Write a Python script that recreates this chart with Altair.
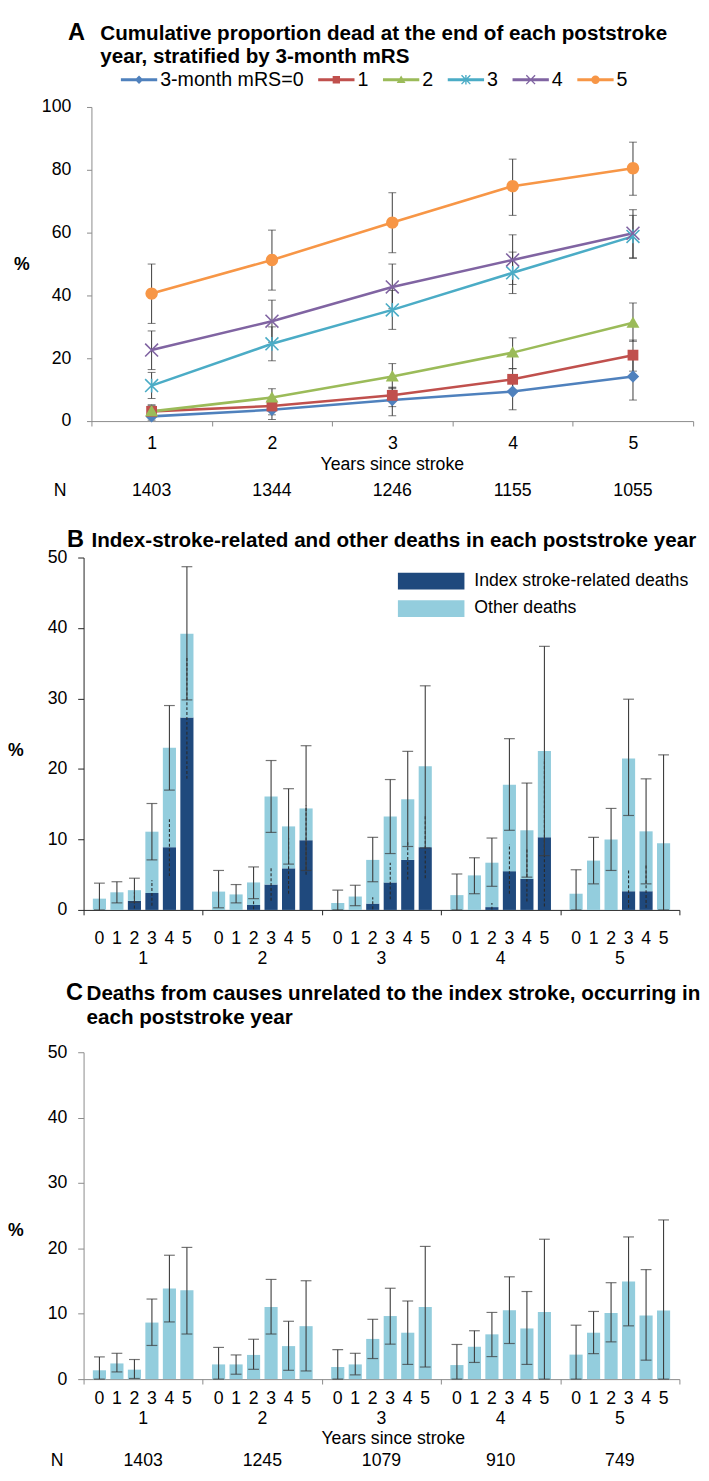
import math
import altair as alt
import pandas as pd

# ---------------- Panel A data ----------------
years = [1, 2, 3, 4, 5]
a_labels = ["3-month mRS=0", "1", "2", "3", "4", "5"]
a_mrs0 = [1.5, 3.6, 6.7, 9.4, 14.2]
a_mrs1 = [3.1, 4.8, 8.2, 13.3, 21.0]
a_mrs2 = [3.1, 7.5, 14.2, 21.8, 31.3]
a_mrs3 = [11.3, 24.6, 35.4, 47.2, 58.8]
a_mrs4 = [22.6, 31.8, 42.7, 51.3, 59.8]
a_mrs5 = [40.6, 51.3, 63.2, 74.8, 80.5]
a_lo0 = [0.3, 0.5, 1.7, 3.6, 6.7]
a_hi0 = [2.9, 6.7, 10.6, 14.4, 20.5]
a_lo1 = [1.0, 2.0, 4.6, 9.7, 15.9]
a_hi1 = [5.2, 7.6, 10.8, 16.7, 25.8]
a_lo2 = [1.3, 4.6, 10.3, 16.7, 25.4]
a_hi2 = [4.9, 10.3, 18.3, 26.5, 37.6]
a_lo3 = [7.2, 19.2, 29.2, 40.6, 51.8]
a_hi3 = [15.5, 30.0, 41.6, 53.8, 65.5]
a_lo4 = [16.4, 25.1, 35.8, 43.5, 52.0]
a_hi4 = [28.7, 38.5, 50.0, 59.3, 67.3]
a_lo5 = [31.1, 41.7, 53.6, 65.5, 71.9]
a_hi5 = [50.0, 60.8, 72.7, 83.4, 88.8]
a_n = [1403, 1344, 1246, 1155, 1055]

# ---------------- Panel B data (groups = years, cats = 3-month mRS) ----------------
groups = [1, 2, 3, 4, 5]
cats = [0, 1, 2, 3, 4, 5]
b_index = [0, 0, 1.3, 2.4, 8.9, 27.3,
           0, 0, 0.7, 3.6, 5.9, 9.9,
           0, 0, 0.9, 3.9, 7.1, 8.9,
           0, 0, 0.4, 5.5, 4.4, 10.3,
           0, 0, 0, 2.65, 2.65, 0]
b_other = [1.6, 2.5, 1.5, 8.7, 14.1, 11.9,
           2.6, 2.2, 3.2, 12.5, 5.95, 4.5,
           1.0, 1.9, 6.2, 9.35, 8.6, 11.5,
           2.1, 4.9, 6.3, 12.25, 6.9, 12.25,
           2.3, 7.0, 10.0, 18.85, 8.5, 9.45]
b_lo = [0, 1.0, 1.1, 7.1, 17.0, 29.8,
        0.3, 1.0, 1.6, 11.0, 6.5, 5.6,
        0, 0.6, 4.0, 8.0, 9.0, 8.8,
        0, 2.3, 3.35, 11.3, 4.65, 7.7,
        0, 3.7, 5.6, 13.4, 3.7, 0]
b_hi = [3.8, 4.0, 4.5, 15.1, 29.0, 48.7,
        5.6, 3.6, 6.1, 21.2, 17.2, 23.3,
        2.8, 3.5, 10.3, 18.5, 22.5, 31.8,
        5.1, 7.4, 10.2, 24.3, 18.0, 37.4,
        5.7, 10.3, 14.4, 29.9, 18.6, 22.0]
b_idx_lo = [None, None, 0.2, 0.6, 4.8, 18.6,
            None, None, 0.1, 1.3, 2.3, 5.0,
            None, None, 0.1, 1.5, 4.3, 4.5,
            None, None, 0.05, 2.3, 1.2, 0.5,
            None, None, None, 0.3, 0.3, None]
b_idx_hi = [None, None, 2.5, 4.2, 12.9, 36.0,
            None, None, 1.4, 5.9, 10.2, 14.8,
            None, None, 1.8, 6.7, 9.9, 13.5,
            None, None, 1.0, 9.3, 8.8, 21.4,
            None, None, None, 5.6, 6.5, None]

# ---------------- Panel C data ----------------
c_vals = [1.35, 2.4, 1.45, 8.65, 13.85, 13.6,
          2.25, 2.25, 3.7, 11.05, 5.05, 8.1,
          1.85, 2.25, 6.15, 9.65, 7.1, 11.05,
          2.15, 4.95, 6.85, 10.55, 7.75, 10.25,
          3.75, 7.1, 10.1, 14.95, 9.75, 10.5]
c_lo = [0, 1.1, 0.1, 5.15, 8.75, 6.9,
        0, 0.75, 1.5, 6.9, 1.35, 1.25,
        0, 0.65, 3.15, 5.35, 2.25, 1.85,
        0, 2.55, 3.45, 5.45, 2.25, 0,
        0, 3.9, 5.7, 8.15, 2.9, 0]
c_hi = [3.4, 3.95, 3.0, 12.25, 18.95, 20.15,
        4.85, 3.7, 6.1, 15.25, 8.85, 15.05,
        4.5, 3.95, 9.15, 13.9, 11.95, 20.3,
        5.3, 7.4, 10.2, 15.65, 13.4, 21.4,
        8.25, 10.35, 14.75, 21.75, 16.75, 24.35]
c_n = [1403, 1245, 1079, 910, 749]

# ---------------- styles ----------------
FONT = "Liberation Sans, Arial, sans-serif"
A_COLORS = ["#4F81BD", "#C0504D", "#9BBB59", "#4BACC6", "#8064A2", "#F79646"]
DARK = "#1F497D"
LIGHT = "#93CDDD"
ERR = "#3a3a3a"
GRAYAX = "#8a8a8a"
B_TYPES = ["Index stroke-related deaths", "Other deaths"]

WA, HA, AX0 = 621, 320, 8
WB, HB = 607, 359
WC, HC = 607, 333


def poly(pts, s):
    return "M" + "L".join(f"{x / s:.4f},{y / s:.4f}" for x, y in pts) + "Z"


def bar(theta_deg, half_len, half_t, s):
    th = math.radians(theta_deg)
    dx, dy = math.cos(th) * half_len, math.sin(th) * half_len
    nx, ny = -math.sin(th) * half_t, math.cos(th) * half_t
    pts = [(dx - nx, dy - ny), (dx + nx, dy + ny), (-dx + nx, -dy + ny), (-dx - nx, -dy - ny)]
    return poly(pts, s)


def marker(kind, s, m=1.0, t=0.8):
    if kind == "diamond":
        a = 6.3 * m
        return poly([(0, -a), (a, 0), (0, a), (-a, 0)], s)
    if kind == "square":
        a = 5.5 * m
        return poly([(-a, -a), (a, -a), (a, a), (-a, a)], s)
    if kind == "triangle":
        w, top, bot = 6.6 * m, -6.5 * m, 5.0 * m
        return poly([(0, top), (w, bot), (-w, bot)], s)
    if kind == "circle":
        r = 6.3 * m / s
        return f"M{r:.4f},0A{r:.4f},{r:.4f} 0 1,1 {-r:.4f},0A{r:.4f},{r:.4f} 0 1,1 {r:.4f},0Z"
    if kind == "x":
        return bar(45, 9.3 * m, t, s) + bar(135, 9.3 * m, t, s)
    if kind == "star":
        return bar(90, 7.0 * m, t, s) + bar(45, 9.3 * m, t, s) + bar(135, 9.3 * m, t, s)


KINDS = ["diamond", "square", "triangle", "star", "x", "circle"]
PT_SIZE = 196          # 14 px -> 7 px per unit
LEG_W = 37
LEG_SIZE = LEG_W * LEG_W
LEG_S = LEG_W / 2.0
pt_paths = [marker(k, 7.0) for k in KINDS]
lt = 1.5 / LEG_S
leg_paths = [f"M-1,{-lt:.4f}H1V{lt:.4f}H-1Z" + marker(k, LEG_S, 0.68, 0.7) for k in KINDS]

# ---------------- Panel A ----------------
a_vals = [a_mrs0, a_mrs1, a_mrs2, a_mrs3, a_mrs4, a_mrs5]
a_los = [a_lo0, a_lo1, a_lo2, a_lo3, a_lo4, a_lo5]
a_his = [a_hi0, a_hi1, a_hi2, a_hi3, a_hi4, a_hi5]
rows = []
for si, lab in enumerate(a_labels):
    for yi, yr in enumerate(years):
        rows.append(dict(series=lab, sidx=si, year=yr, val=a_vals[si][yi],
                         lo=a_los[si][yi], hi=a_his[si][yi], col=A_COLORS[si]))
a_df = pd.DataFrame(rows)
a_ndf = pd.DataFrame({"year": years, "n": [str(v) for v in a_n]})

xA = alt.X("year:O", scale=alt.Scale(range=[AX0, WA], paddingInner=0, paddingOuter=0),
           axis=alt.Axis(title=None, labelAngle=0, tickBand="extent", tickSize=5,
                         labelPadding=18, labelBaseline="middle", domainColor=GRAYAX,
                         tickColor=GRAYAX, labelFontSize=18))
axisA_y = alt.Axis(title=None, values=[0, 20, 40, 60, 80, 100], offset=-AX0, tickSize=5,
                   labelPadding=16, domainColor=GRAYAX, tickColor=GRAYAX, labelFontSize=18)
scaleA_y = alt.Scale(domain=[0, 100], nice=False)

baseA = alt.Chart(a_df)
errA = baseA.mark_rule(color=ERR, strokeWidth=1).encode(
    x=xA, y=alt.Y("lo:Q", scale=scaleA_y, axis=axisA_y), y2="hi:Q")
capA_lo = baseA.mark_tick(color=ERR, size=8, thickness=1).encode(x=xA, y="lo:Q")
capA_hi = baseA.mark_tick(color=ERR, size=8, thickness=1).encode(x=xA, y="hi:Q")
linesA = baseA.mark_line(strokeWidth=2.6).encode(
    x=xA, y="val:Q", color=alt.Color("col:N", scale=None), detail="series:N")
pointsA = [baseA.transform_filter(alt.datum.sidx == i).mark_point(
    shape=pt_paths[i], filled=True, size=PT_SIZE, color=A_COLORS[i], opacity=1, strokeWidth=0
).encode(x=xA, y="val:Q") for i in range(6)]

legA = alt.Legend(orient="none", legendX=38, legendY=-28 - LEG_W / 2, direction="horizontal", columns=6,
                  title=None, symbolSize=LEG_SIZE, symbolStrokeWidth=0, symbolOpacity=1,
                  labelFont=FONT, labelFontSize=20, labelColor="#000", labelOffset=3,
                  columnPadding=14, padding=0, labelLimit=400)
legend_layer = baseA.transform_filter("false").mark_point(filled=True, opacity=1).encode(
    fill=alt.Fill("series:N", scale=alt.Scale(domain=a_labels, range=A_COLORS), legend=legA),
    shape=alt.Shape("series:N", scale=alt.Scale(domain=a_labels, range=leg_paths), legend=legA),
)

nA = alt.Chart(a_ndf).mark_text(font=FONT, fontSize=18, baseline="middle").encode(
    x=xA, text="n:N", y=alt.value(HA + 71))
one = pd.DataFrame({"k": [0]})


def label(text, x, y, size=18, weight="normal", align="left", baseline="middle"):
    return alt.Chart(one).mark_text(text=text, font=FONT, fontSize=size, fontWeight=weight,
                                    align=align, baseline=baseline, color="#000").encode(
        x=alt.value(x), y=alt.value(y))


textsA = [
    label("A", -16, -68, 24, "bold", baseline="alphabetic"),
    label("Cumulative proportion dead at the end of each poststroke", 17, -68, 21, "bold", baseline="alphabetic"),
    label("year, stratified by 3-month mRS", 17, -45, 21, "bold", baseline="alphabetic"),
    label("%", -71, 161, 18, "bold"),
    label("Years since stroke", (AX0 + WA) / 2, HA + 45, 18, align="center"),
    label("N", -24, HA + 71, 18, align="center"),
]
panelA = alt.layer(errA, capA_lo, capA_hi, linesA, *pointsA, legend_layer, nA, *textsA).properties(
    width=WA, height=HA)

# ---------------- Panel B ----------------
brow, blong = [], []
for gi, g in enumerate(groups):
    for ci, c in enumerate(cats):
        k = gi * 6 + ci
        brow.append(dict(group=g, cat=c, lo=b_lo[k], hi=b_hi[k], ilo=b_idx_lo[k], ihi=b_idx_hi[k]))
        blong.append(dict(group=g, cat=c, type=B_TYPES[0], ord=0, v=b_index[k]))
        blong.append(dict(group=g, cat=c, type=B_TYPES[1], ord=1, v=b_other[k]))
b_df = pd.DataFrame(brow)
b_long = pd.DataFrame(blong)
g_df = pd.DataFrame({"group": groups})


def xg(color):
    return alt.X("group:O", scale=alt.Scale(paddingInner=0, paddingOuter=0),
                 axis=alt.Axis(labels=False, title=None, tickBand="extent", tickSize=5,
                               domainColor=color, tickColor=color))


xo = alt.XOffset("cat:O", scale=alt.Scale(paddingInner=0.25, paddingOuter=0.53))


def yq(field, color, stack=None):
    kw = {}
    if stack is not None:
        kw["stack"] = stack
    return alt.Y(field, scale=alt.Scale(domain=[0, 50], nice=False),
                 axis=alt.Axis(title=None, values=[0, 10, 20, 30, 40, 50], tickSize=6,
                               labelPadding=11, domainColor=color, tickColor=color, labelFontSize=18),
                 **kw)


xB = xg("#222222")
legB = alt.Legend(orient="none", legendX=320, legendY=14, direction="vertical", title=None,
                  symbolType="M-1,-0.25H1V0.25H-1Z", symbolSize=68 * 68, symbolStrokeWidth=0,
                  symbolOpacity=1, labelFont=FONT, labelFontSize=18, labelColor="#000",
                  labelOffset=10, clipHeight=20, rowPadding=8, padding=0, labelLimit=400)
barsB = alt.Chart(b_long).mark_bar(opacity=1).encode(
    x=xB, xOffset=xo, y=yq("v:Q", "#222222", "zero"),
    color=alt.Color("type:N", scale=alt.Scale(domain=B_TYPES, range=[DARK, LIGHT]), legend=legB),
    order=alt.Order("ord:Q"))
dashB = alt.Chart(b_df).transform_filter("isValid(datum.ilo)").mark_rule(
    color="#2a2a2a", strokeWidth=1.1, strokeDash=[3, 2]).encode(x=xB, xOffset=xo, y="ilo:Q", y2="ihi:Q")
errB = alt.Chart(b_df).mark_rule(color=ERR, strokeWidth=1.1).encode(x=xB, xOffset=xo, y="lo:Q", y2="hi:Q")
capB_lo = alt.Chart(b_df).mark_tick(color=ERR, size=11, thickness=1.2).encode(x=xB, xOffset=xo, y="lo:Q")
capB_hi = alt.Chart(b_df).mark_tick(color=ERR, size=11, thickness=1.2).encode(x=xB, xOffset=xo, y="hi:Q")
catB = alt.Chart(b_df).mark_text(font=FONT, fontSize=18, baseline="middle").encode(
    x=xB, xOffset=xo, text="cat:N", y=alt.value(HB + 30))
grpB = alt.Chart(g_df).mark_text(font=FONT, fontSize=18, baseline="middle").encode(
    x=xB, text="group:N", y=alt.value(HB + 50))
textsB = [
    label("B", -17, -11, 24, "bold", baseline="alphabetic"),
    label("Index-stroke-related and other deaths in each poststroke year", 8, -11, 21, "bold",
          baseline="alphabetic"),
    label("%", -77, 197, 18, "bold"),
]
panelB = alt.layer(barsB, dashB, errB, capB_lo, capB_hi, catB, grpB, *textsB).properties(
    width=WB, height=HB)

# ---------------- Panel C ----------------
crow = []
for gi, g in enumerate(groups):
    for ci, c in enumerate(cats):
        k = gi * 6 + ci
        crow.append(dict(group=g, cat=c, v=c_vals[k], lo=c_lo[k], hi=c_hi[k]))
c_df = pd.DataFrame(crow)
c_ndf = pd.DataFrame({"group": groups, "n": [str(v) for v in c_n]})
xC = xg(GRAYAX)
barsC = alt.Chart(c_df).mark_bar(color=LIGHT, opacity=1).encode(x=xC, xOffset=xo, y=yq("v:Q", GRAYAX))
errC = alt.Chart(c_df).mark_rule(color=ERR, strokeWidth=1.1).encode(x=xC, xOffset=xo, y="lo:Q", y2="hi:Q")
capC_lo = alt.Chart(c_df).mark_tick(color=ERR, size=11, thickness=1.2).encode(x=xC, xOffset=xo, y="lo:Q")
capC_hi = alt.Chart(c_df).mark_tick(color=ERR, size=11, thickness=1.2).encode(x=xC, xOffset=xo, y="hi:Q")
catC = alt.Chart(c_df).mark_text(font=FONT, fontSize=18, baseline="middle").encode(
    x=xC, xOffset=xo, text="cat:N", y=alt.value(HC + 20))
grpC = alt.Chart(g_df).mark_text(font=FONT, fontSize=18, baseline="middle").encode(
    x=xC, text="group:N", y=alt.value(HC + 41))
nC = alt.Chart(c_ndf).mark_text(font=FONT, fontSize=18, baseline="middle").encode(
    x=xC, text="n:N", y=alt.value(HC + 84))
textsC = [
    label("C", -18, -53, 24, "bold", baseline="alphabetic"),
    label("Deaths from causes unrelated to the index stroke, occurring in", 3, -53, 21, "bold",
          baseline="alphabetic"),
    label("each poststroke year", 3, -29, 21, "bold", baseline="alphabetic"),
    label("%", -77, 182, 18, "bold"),
    label("Years since stroke", WC / 2 + 12, HC + 61, 18, align="center"),
    label("N", -27, HC + 84, 18, align="center"),
]
panelC = alt.layer(barsC, errC, capC_lo, capC_hi, catC, grpC, nC, *textsC).properties(
    width=WC, height=HC)

lower = alt.vconcat(panelB, panelC, spacing=145, bounds="flush").resolve_scale(
    color="independent", fill="independent", shape="independent").resolve_legend(
    color="independent", fill="independent", shape="independent")
chart = alt.vconcat(panelA, lower, spacing=139, bounds="flush").resolve_scale(
    color="independent", fill="independent", shape="independent").resolve_legend(
    color="independent", fill="independent", shape="independent").properties(padding=0).configure_view(
    stroke=None).configure_axis(grid=False, labelFont=FONT, labelFontSize=18, labelColor="#000")

chart.save("out.html", embed_options={"renderer": "svg", "actions": False})
